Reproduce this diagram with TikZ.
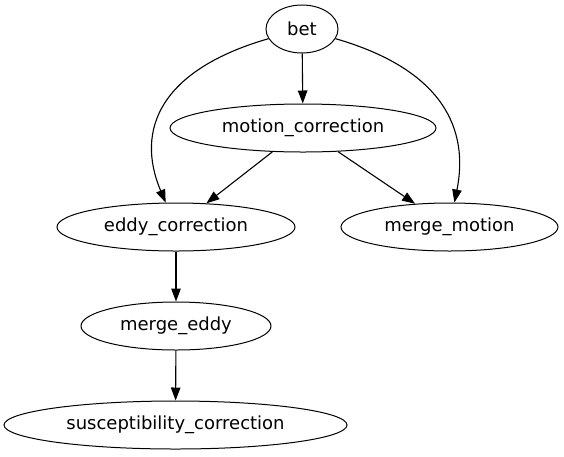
\documentclass[tikz,border=0pt]{standalone}
\usepackage{fontspec}
\setmainfont{DejaVu Sans}
\usetikzlibrary{shapes.geometric,arrows.meta}
\begin{document}
\begin{tikzpicture}[x=1pt,y=-1pt,
  gnode/.style={ellipse, draw, line width=1pt, inner sep=0pt, minimum height=48pt, font=\fontsize{18}{21}\selectfont},
  edge/.style={line width=1.1pt, -{Triangle[length=13pt,width=9.5pt]}}]
\useasboundingbox (0,0) rectangle (564,456);
\node[gnode, minimum width=72pt] (bet) at (302,29) {bet};
\node[gnode, minimum width=266pt] (motion) at (303,128) {motion\_correction};
\node[gnode, minimum width=238pt] (eddy) at (176,227) {eddy\_correction};
\node[gnode, minimum width=217pt] (mmotion) at (449.5,227) {merge\_motion};
\node[gnode, minimum width=190pt] (meddy) at (176,326) {merge\_eddy};
\node[gnode, minimum width=343pt] (susc) at (175.5,425) {susceptibility\_correction};
\draw[edge] (bet) -- (motion);
\draw[edge] (bet) .. controls (160,70) and (135,130) .. (eddy);
\draw[edge] (bet) .. controls (444,70) and (469,130) .. (mmotion);
\draw[edge] (motion) -- (eddy);
\draw[edge] (motion) -- (mmotion);
\draw[edge] (eddy) -- (meddy);
\draw[edge] (meddy) -- (susc);
\end{tikzpicture}
\end{document}
